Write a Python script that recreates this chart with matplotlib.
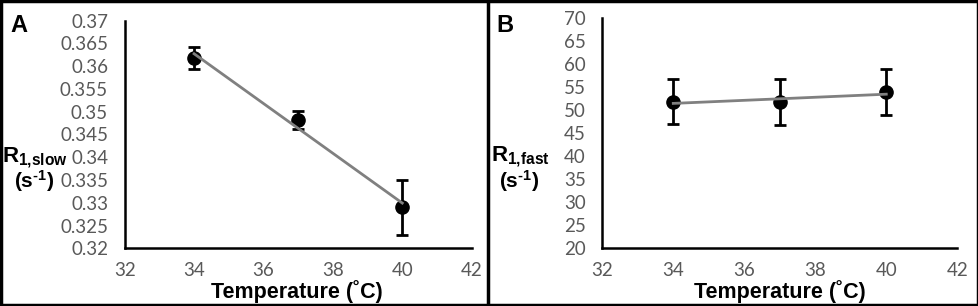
import numpy as np
import matplotlib.pyplot as plt
from matplotlib.lines import Line2D
from matplotlib.patches import Rectangle

plt.rcParams['mathtext.fontset'] = 'custom'
plt.rcParams['mathtext.bf'] = 'Liberation Sans:bold'
plt.rcParams['mathtext.rm'] = 'Liberation Sans:bold'

temps = [34, 37, 40]
r1_slow = [0.3618, 0.3482, 0.3290]
r1_slow_err = [0.0025, 0.0020, 0.0061]
r1_fast = [51.9, 51.7, 53.9]
r1_fast_err = [4.9, 5.0, 5.0]

fig = plt.figure(figsize=(9.79, 3.06), dpi=100)


def panel(rect, y, yerr, ylim, yticks, yfmt):
    ax = fig.add_axes(rect)
    ax.errorbar(temps, y, yerr=yerr, fmt='o', color='black', ms=9.5,
                elinewidth=2, capsize=4, capthick=2, zorder=2)
    fit = np.polyfit(temps, y, 1)
    xs = np.array([temps[0], temps[-1]])
    ax.plot(xs, np.polyval(fit, xs), color='#808080', lw=2, zorder=3)
    ax.set_xlim(32, 42)
    ax.set_ylim(*ylim)
    ax.set_xticks([32, 34, 36, 38, 40, 42])
    ax.set_yticks(yticks)
    ax.set_yticklabels([yfmt(v) for v in yticks])
    for s in ['top', 'right']:
        ax.spines[s].set_visible(False)
    for s in ['left', 'bottom']:
        ax.spines[s].set_linewidth(1.8)
    ax.tick_params(axis='y', length=0, pad=12, labelcolor='#595959')
    ax.tick_params(axis='x', length=0, pad=10, labelcolor='#595959')
    for lab in ax.get_xticklabels() + ax.get_yticklabels():
        lab.set_fontfamily('Lato')
        lab.set_fontsize(13.5)
    ax.patch.set_alpha(0)
    return ax

slow_ticks = [0.32, 0.325, 0.33, 0.335, 0.34, 0.345, 0.35, 0.355, 0.36, 0.365, 0.37]
fast_ticks = [20, 25, 30, 35, 40, 45, 50, 55, 60, 65, 70]

panel([0.1274, 0.1886, 0.3544, 0.7438], r1_slow, r1_slow_err, (0.32, 0.37),
      slow_ticks, lambda v: ('%.3f' % v).rstrip('0'))
panel([0.6152, 0.1886, 0.3626, 0.7516], r1_fast, r1_fast_err, (20, 70),
      fast_ticks, lambda v: '%d' % v)

W, H = 979.0, 306.0
def t(x, y, s, **kw):
    fig.text(x / W, 1 - y / H, s, ha='center', va='center', **kw)

bold = dict(family='Liberation Sans', weight='bold')
t(19, 25, 'A', size=17, **bold)
t(505, 25, 'B', size=17, **bold)
t(35, 158, r'$\mathbf{R_{1{,}slow}}$', size=16)
t(34, 181, r'$\mathbf{(s^{\text{-}1})}$', size=15)
t(520, 157, r'$\mathbf{R_{1{,}fast}}$', size=16)
t(519, 181, r'$\mathbf{(s^{\text{-}1})}$', size=15)
t(297, 292, 'Temperature (˚C)', size=15.5, **bold)
t(780, 292, 'Temperature (˚C)', size=15.5, **bold)

# outer frame and divider
fig.patches.append(Rectangle((0.0015, 0.004), 0.997, 0.992, transform=fig.transFigure,
                             fill=False, edgecolor='black', lw=2.5))
fig.lines.append(Line2D([488 / W, 488 / W], [0, 1], transform=fig.transFigure,
                        color='black', lw=2.5))

fig.savefig('out.png', dpi=100)
